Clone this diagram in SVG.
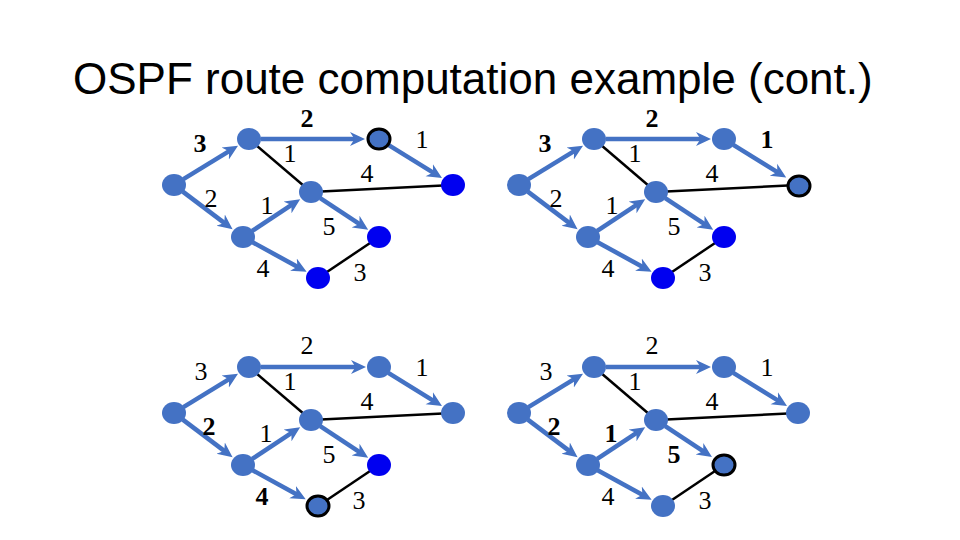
<svg xmlns="http://www.w3.org/2000/svg" width="960" height="540" viewBox="0 0 960 540">
<defs>
<marker id="ah" markerUnits="userSpaceOnUse" markerWidth="18" markerHeight="16" viewBox="0 0 18 16" refX="7" refY="8" orient="auto">
<path d="M0,1 L15,8 L0,15 L4.5,8 z" fill="#4472C4"/>
</marker>
</defs>
<style>
.t{font-family:"Liberation Sans",Arial,sans-serif;font-size:44px;fill:#000}
.w{font-family:"Liberation Serif","Times New Roman",serif;font-size:26px;fill:#000;text-anchor:middle}
.b{font-weight:bold}
.e{stroke:#4472C4;stroke-width:4.5;fill:none;marker-end:url(#ah)}
.k{stroke:#000;stroke-width:2.5;fill:none}
.n{fill:#4472C4}
.u{fill:#0000F0}
.o{fill:#4472C4;stroke:#000;stroke-width:3}
</style>
<rect width="960" height="540" fill="#fff"/>
<text class="t" x="73" y="94">OSPF route computation example (cont.)</text>

<!-- Quadrant 1 -->
<g id="q1">
<g id="q1-edges">
<line class="k" x1="249" y1="139" x2="311" y2="192"/>
<line class="k" x1="311" y1="192" x2="453" y2="185"/>
<line class="k" x1="318" y1="278" x2="379" y2="237"/>
<line class="e" x1="183.4" y1="179.2" x2="231.2" y2="149.9"/>
<line class="e" x1="182.8" y1="191.6" x2="226.2" y2="224.4"/>
<line class="e" x1="261" y1="139" x2="357" y2="139"/>
<line class="e" x1="388.3" y1="144.8" x2="435.2" y2="173.9"/>
<line class="e" x1="252.2" y1="230.9" x2="293.5" y2="203.6"/>
<line class="e" x1="320.2" y1="198.1" x2="361.5" y2="225.4"/>
<line class="e" x1="252.6" y1="242.3" x2="299.6" y2="267.9"/>
</g>
<g id="q1-labels">
<text class="w b" x="307" y="127">2</text>
<text class="w b" x="200" y="152">3</text>
<text class="w" x="290" y="162">1</text>
<text class="w" x="422" y="148">1</text>
<text class="w" x="367" y="182">4</text>
<text class="w" x="211" y="207">2</text>
<text class="w" x="267" y="214">1</text>
<text class="w" x="329" y="235">5</text>
<text class="w" x="263" y="277">4</text>
<text class="w" x="360" y="281">3</text>
</g>
<g id="q1-A"><ellipse class="n" cx="174" cy="185" rx="12" ry="11"/></g>
<g id="q1-B"><ellipse class="n" cx="249" cy="139" rx="12" ry="11"/></g>
<g id="q1-C"><ellipse class="o" cx="379" cy="139" rx="11" ry="10"/></g>
<g id="q1-D"><ellipse class="u" cx="453" cy="185" rx="12" ry="11"/></g>
<g id="q1-E"><ellipse class="n" cx="311" cy="192" rx="12" ry="11"/></g>
<g id="q1-F"><ellipse class="n" cx="243" cy="237" rx="12" ry="11"/></g>
<g id="q1-G"><ellipse class="u" cx="379" cy="237" rx="12" ry="11"/></g>
<g id="q1-H"><ellipse class="u" cx="318" cy="278" rx="12" ry="11"/></g>
</g>

<!-- Quadrant 2 -->
<g id="q2" transform="translate(345,0)">
<g id="q2-edges">
<line class="k" x1="249" y1="139" x2="311" y2="192"/>
<line class="k" x1="311" y1="192" x2="453" y2="185"/>
<line class="k" x1="318" y1="278" x2="379" y2="237"/>
<line class="e" x1="183.4" y1="179.2" x2="231.2" y2="149.9"/>
<line class="e" x1="182.8" y1="191.6" x2="226.2" y2="224.4"/>
<line class="e" x1="261" y1="139" x2="358" y2="139"/>
<line class="e" x1="388.3" y1="144.8" x2="434.4" y2="173.4"/>
<line class="e" x1="252.2" y1="230.9" x2="293.5" y2="203.6"/>
<line class="e" x1="320.2" y1="198.1" x2="361.5" y2="225.4"/>
<line class="e" x1="252.6" y1="242.3" x2="299.6" y2="267.9"/>
</g>
<g id="q2-labels">
<text class="w b" x="307" y="127">2</text>
<text class="w b" x="200" y="152">3</text>
<text class="w" x="290" y="162">1</text>
<text class="w b" x="422" y="148">1</text>
<text class="w" x="367" y="182">4</text>
<text class="w" x="211" y="207">2</text>
<text class="w" x="267" y="214">1</text>
<text class="w" x="329" y="235">5</text>
<text class="w" x="263" y="277">4</text>
<text class="w" x="360" y="281">3</text>
</g>
<g id="q2-A"><ellipse class="n" cx="174" cy="185" rx="12" ry="11"/></g>
<g id="q2-B"><ellipse class="n" cx="249" cy="139" rx="12" ry="11"/></g>
<g id="q2-C"><ellipse class="n" cx="379" cy="139" rx="12" ry="11"/></g>
<g id="q2-D"><ellipse class="o" cx="454" cy="186" rx="11" ry="10"/></g>
<g id="q2-E"><ellipse class="n" cx="311" cy="192" rx="12" ry="11"/></g>
<g id="q2-F"><ellipse class="n" cx="243" cy="237" rx="12" ry="11"/></g>
<g id="q2-G"><ellipse class="u" cx="379" cy="237" rx="12" ry="11"/></g>
<g id="q2-H"><ellipse class="u" cx="318" cy="278" rx="12" ry="11"/></g>
</g>

<!-- Quadrant 3 -->
<g id="q3" transform="translate(0,228)">
<g id="q3-edges">
<line class="k" x1="249" y1="139" x2="311" y2="192"/>
<line class="k" x1="311" y1="192" x2="453" y2="185"/>
<line class="k" x1="318" y1="278" x2="379" y2="237"/>
<line class="e" x1="183.4" y1="179.2" x2="231.2" y2="149.9"/>
<line class="e" x1="182.8" y1="191.6" x2="226.2" y2="224.4"/>
<line class="e" x1="261" y1="139" x2="358" y2="139"/>
<line class="e" x1="388.3" y1="144.8" x2="435.2" y2="173.9"/>
<line class="e" x1="252.2" y1="230.9" x2="293.5" y2="203.6"/>
<line class="e" x1="320.2" y1="198.1" x2="361.5" y2="225.4"/>
<line class="e" x1="252.6" y1="242.3" x2="298.7" y2="267.4"/>
</g>
<g id="q3-labels">
<text class="w" x="307" y="126">2</text>
<text class="w" x="201" y="152">3</text>
<text class="w" x="290" y="162">1</text>
<text class="w" x="422" y="148">1</text>
<text class="w" x="367" y="182">4</text>
<text class="w b" x="209" y="207">2</text>
<text class="w" x="266" y="214">1</text>
<text class="w" x="329" y="235">5</text>
<text class="w b" x="262" y="277">4</text>
<text class="w" x="359" y="281">3</text>
</g>
<g id="q3-A"><ellipse class="n" cx="174" cy="185" rx="12" ry="11"/></g>
<g id="q3-B"><ellipse class="n" cx="249" cy="139" rx="12" ry="11"/></g>
<g id="q3-C"><ellipse class="n" cx="379" cy="139" rx="12" ry="11"/></g>
<g id="q3-D"><ellipse class="n" cx="453" cy="185" rx="12" ry="11"/></g>
<g id="q3-E"><ellipse class="n" cx="311" cy="192" rx="12" ry="11"/></g>
<g id="q3-F"><ellipse class="n" cx="243" cy="237" rx="12" ry="11"/></g>
<g id="q3-G"><ellipse class="u" cx="379" cy="237" rx="12" ry="11"/></g>
<g id="q3-H"><ellipse class="o" cx="318" cy="278" rx="11" ry="10"/></g>
</g>

<!-- Quadrant 4 -->
<g id="q4" transform="translate(345,228)">
<g id="q4-edges">
<line class="k" x1="249" y1="139" x2="311" y2="192"/>
<line class="k" x1="311" y1="192" x2="453" y2="185"/>
<line class="k" x1="318" y1="278" x2="379" y2="237"/>
<line class="e" x1="183.4" y1="179.2" x2="231.2" y2="149.9"/>
<line class="e" x1="182.8" y1="191.6" x2="226.2" y2="224.4"/>
<line class="e" x1="261" y1="139" x2="358" y2="139"/>
<line class="e" x1="388.3" y1="144.8" x2="435.2" y2="173.9"/>
<line class="e" x1="252.2" y1="230.9" x2="293.5" y2="203.6"/>
<line class="e" x1="320.2" y1="198.1" x2="360.3" y2="224.6"/>
<line class="e" x1="252.6" y1="242.3" x2="299.6" y2="267.9"/>
</g>
<g id="q4-labels">
<text class="w" x="307" y="126">2</text>
<text class="w" x="201" y="152">3</text>
<text class="w" x="290" y="162">1</text>
<text class="w" x="422" y="148">1</text>
<text class="w" x="367" y="182">4</text>
<text class="w b" x="209" y="207">2</text>
<text class="w b" x="266" y="214">1</text>
<text class="w b" x="329" y="235">5</text>
<text class="w" x="263" y="277">4</text>
<text class="w" x="360" y="281">3</text>
</g>
<g id="q4-A"><ellipse class="n" cx="174" cy="185" rx="12" ry="11"/></g>
<g id="q4-B"><ellipse class="n" cx="249" cy="139" rx="12" ry="11"/></g>
<g id="q4-C"><ellipse class="n" cx="379" cy="139" rx="12" ry="11"/></g>
<g id="q4-D"><ellipse class="n" cx="453" cy="185" rx="12" ry="11"/></g>
<g id="q4-E"><ellipse class="n" cx="311" cy="192" rx="12" ry="11"/></g>
<g id="q4-F"><ellipse class="n" cx="243" cy="237" rx="12" ry="11"/></g>
<g id="q4-G"><ellipse class="o" cx="379" cy="237" rx="11" ry="10"/></g>
<g id="q4-H"><ellipse class="n" cx="318" cy="278" rx="12" ry="11"/></g>
</g>
</svg>
